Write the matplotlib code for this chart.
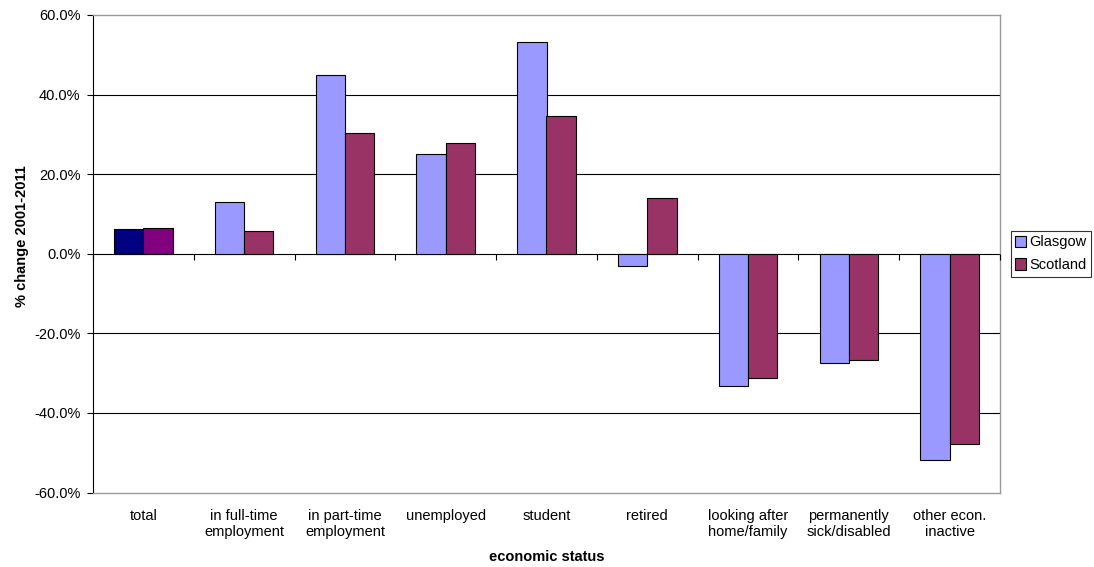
import numpy as np
import matplotlib
matplotlib.use('Agg')
import matplotlib.pyplot as plt
from matplotlib.patches import Patch

plt.rcParams['font.family'] = ['Liberation Sans', 'DejaVu Sans']

categories = ['total', 'in full-time\nemployment', 'in part-time\nemployment', 'unemployed',
              'student', 'retired', 'looking after\nhome/family', 'permanently\nsick/disabled',
              'other econ.\ninactive']
glasgow  = [6.2, 13.1, 44.8, 25.0, 53.2, -3.2, -33.3, -27.4, -51.8]
scotland = [6.4, 5.7, 30.4, 27.9, 34.5, 14.1, -31.3, -26.7, -47.7]

c_glas, c_scot = '#9999FF', '#993366'
c_glas_tot, c_scot_tot = '#000080', '#800080'   # total bars drawn in darker shades

FS = 10.5

fig = plt.figure(figsize=(10.94, 5.67), dpi=100)
ax = fig.add_axes([93/1094, 1-492.5/567, (1000-93)/1094, (492.5-15)/567])

x = np.arange(len(categories))
w = 0.29
cols_g = [c_glas_tot] + [c_glas]*(len(x)-1)
cols_s = [c_scot_tot] + [c_scot]*(len(x)-1)
ax.bar(x - w/2, glasgow, w, color=cols_g, edgecolor='black', lw=0.8, zorder=3)
ax.bar(x + w/2, scotland, w, color=cols_s, edgecolor='black', lw=0.8, zorder=3)

ax.set_xlim(-0.5, len(x)-0.5)
ax.set_ylim(-60, 60)
yt = np.arange(-60, 61, 20)
ax.set_yticks(yt)
ax.set_yticklabels([f'{v:.1f}%' for v in yt], fontsize=FS)
for v in yt[1:-1]:
    ax.axhline(v, color='black', lw=0.8, zorder=1)

# category axis crosses at zero, tick marks at category boundaries
bounds = np.arange(-0.5, len(x), 1.0)
ax.plot(bounds, np.zeros_like(bounds), ls='none', marker=3, ms=4, mew=0.8, color='black',
        clip_on=False, zorder=4)

ax.set_xticks(x)
ax.set_xticklabels(categories, fontsize=FS, linespacing=1.2)
ax.tick_params(axis='x', length=0, pad=12)
ax.tick_params(axis='y', length=4, width=0.8, pad=5)

for s in ['top', 'right', 'bottom']:
    ax.spines[s].set_color('#999999')
    ax.spines[s].set_linewidth(1)
ax.spines['left'].set_color('black')
ax.spines['left'].set_linewidth(0.8)

ax.set_ylabel('% change 2001-2011', fontsize=FS, fontweight='bold', va='center')
ax.yaxis.set_label_coords(-0.078, 0.537)
ax.set_xlabel('economic status', fontsize=FS, fontweight='bold', va='center')
ax.xaxis.set_label_coords(0.5, -0.135)

handles = [Patch(facecolor=c_glas, edgecolor='black', lw=0.8, label='Glasgow'),
           Patch(facecolor=c_scot, edgecolor='black', lw=0.8, label='Scotland')]
leg = fig.legend(handles=handles, loc='upper left', bbox_to_anchor=(1011/1094, 1-231/567),
                 fontsize=FS, frameon=True, fancybox=False, handlelength=0.7, handleheight=0.8,
                 handletextpad=0.25, borderpad=0.3, labelspacing=0.6, borderaxespad=0)
leg.get_frame().set_edgecolor('black')
leg.get_frame().set_linewidth(0.8)

fig.savefig('out.png', dpi=100)
